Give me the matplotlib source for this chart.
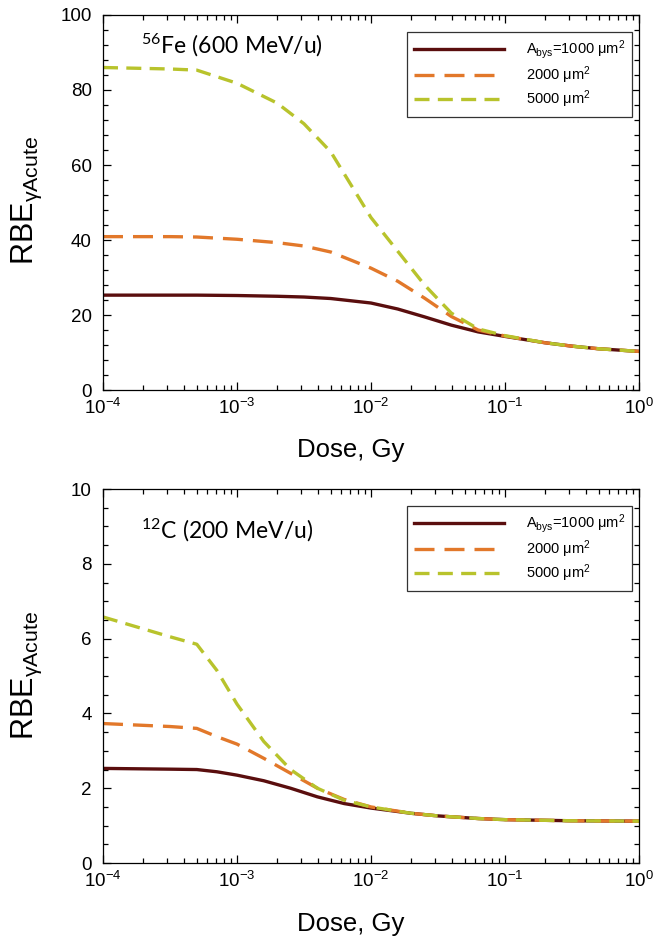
import numpy as np
import matplotlib
matplotlib.use("Agg")
import matplotlib.pyplot as plt
from matplotlib.ticker import LogLocator, MultipleLocator, NullFormatter

plt.rcParams['font.family'] = ['Liberation Sans', 'DejaVu Sans']
plt.rcParams['mathtext.fontset'] = 'custom'
plt.rcParams['mathtext.rm'] = 'Liberation Sans'
plt.rcParams['mathtext.it'] = 'Liberation Sans:italic'

# Fe-56 panel, dose in Gy
fe_dose = 10.0 ** np.array([-4, -3.5, -3.3, -3.0, -2.7, -2.5, -2.3, -2.0, -1.8,
                            -1.6, -1.4, -1.2, -1.0, -0.7, -0.5, -0.3, 0.0])
fe_1000 = [25.3, 25.3, 25.3, 25.2, 25.0, 24.8, 24.4, 23.2, 21.6,
           19.5, 17.3, 15.5, 14.3, 12.6, 11.7, 11.0, 10.3]
fe_2000 = [40.9, 40.9, 40.8, 40.2, 39.3, 38.4, 36.8, 32.5, 29.0,
           24.5, 19.6, 16.0, 14.4, 12.6, 11.7, 11.0, 10.3]
fe_5000 = [86.0, 85.6, 85.3, 81.8, 76.5, 71.0, 63.5, 46.0, 37.0,
           28.0, 20.5, 16.3, 14.5, 12.6, 11.7, 11.0, 10.3]

# C-12 panel
c_dose = 10.0 ** np.array([-4, -3.5, -3.3, -3.15, -3.0, -2.8, -2.6, -2.4, -2.2,
                           -2.0, -1.7, -1.5, -1.2, -1.0, -0.5, 0.0])
c_1000 = [2.53, 2.51, 2.50, 2.44, 2.35, 2.20, 2.00, 1.77, 1.59,
          1.47, 1.33, 1.26, 1.19, 1.16, 1.13, 1.12]
c_2000 = [3.73, 3.65, 3.60, 3.38, 3.18, 2.80, 2.40, 2.00, 1.70,
          1.50, 1.33, 1.26, 1.19, 1.16, 1.13, 1.12]
c_5000 = [6.58, 6.05, 5.85, 5.15, 4.25, 3.25, 2.50, 2.00, 1.68,
          1.50, 1.33, 1.26, 1.19, 1.16, 1.13, 1.12]

labels = ['A$_{\\mathdefault{bys}}$=1000 μm$^{\\mathdefault{2}}$',
          '2000 μm$^{\\mathdefault{2}}$',
          '5000 μm$^{\\mathdefault{2}}$']
colors = ['#5a0e0e', '#e2782a', '#b8c32c']
styles = ['-', (0, (6.0, 3.0)), (0, (4.5, 2.5))]


def draw_panel(ax, dose, series, ymax, ymajor, yminor, title, title_y):
    for vals, lab, col, ls in zip(series, labels, colors, styles):
        ax.plot(dose, vals, color=col, linestyle=ls, lw=2.4, label=lab)

    ax.set_xscale('log')
    ax.set_xlim(1e-4, 1)
    ax.set_ylim(0, ymax)
    ax.xaxis.set_major_locator(LogLocator(base=10, numticks=10))
    ax.xaxis.set_minor_locator(LogLocator(base=10, subs=np.arange(2, 10), numticks=10))
    ax.xaxis.set_minor_formatter(NullFormatter())
    ax.yaxis.set_major_locator(MultipleLocator(ymajor))
    ax.yaxis.set_minor_locator(MultipleLocator(yminor))

    ax.tick_params(which='both', direction='in', top=True, right=True,
                   labelsize=13.5, width=0.9)
    ax.tick_params(which='major', length=6)
    ax.tick_params(which='minor', length=3.5)
    ax.tick_params(axis='y', pad=8)
    ax.tick_params(axis='x', pad=6)
    for sp in ax.spines.values():
        sp.set_linewidth(0.9)

    ax.text(0.07, title_y, title, transform=ax.transAxes, family='Lato',
            fontsize=16.5, ha='left', va='center')

    leg = ax.legend(loc='upper right', bbox_to_anchor=(0.987, 0.955),
                    borderaxespad=0, fontsize=10.5, handlelength=6.2,
                    handletextpad=1.5, labelspacing=0.2, borderpad=0.45,
                    fancybox=False, framealpha=1)
    leg.get_frame().set_edgecolor('#333333')
    leg.get_frame().set_linewidth(0.9)


fig = plt.figure(figsize=(6.56, 9.43), dpi=100)
ax1 = fig.add_axes([0.157, 0.5864, 0.817, 0.3977])
ax2 = fig.add_axes([0.157, 0.0848, 0.817, 0.3966])

draw_panel(ax1, fe_dose, [fe_1000, fe_2000, fe_5000], 100, 20, 4,
           r'$\mathdefault{^{56}Fe\ (600\ MeV/u)}$', 0.92)
draw_panel(ax2, c_dose, [c_1000, c_2000, c_5000], 10, 2, 0.5,
           r'$\mathdefault{^{12}C\ (200\ MeV/u)}$', 0.89)

ylab = 'RBE$_{\\mathdefault{γAcute}}$'
fig.text(27 / 656, 1 - 200 / 943, ylab, rotation=90, ha='center', va='center', fontsize=22)
fig.text(27 / 656, 1 - 675 / 943, ylab, rotation=90, ha='center', va='center', fontsize=22)
fig.text(351 / 656, 1 - 450 / 943, 'Dose, Gy', ha='center', va='center', fontsize=18.5)
fig.text(351 / 656, 1 - 924 / 943, 'Dose, Gy', ha='center', va='center', fontsize=18.5)

fig.savefig('out.png', dpi=100)
